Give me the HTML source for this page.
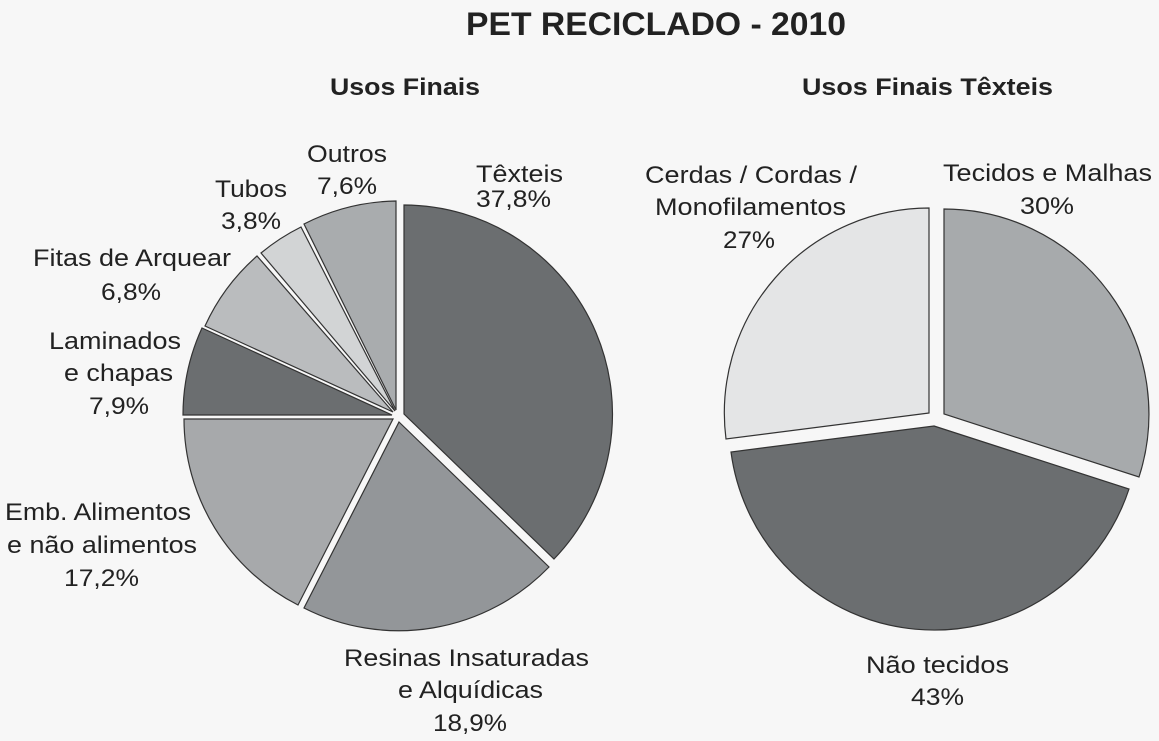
<!DOCTYPE html>
<html><head><meta charset="utf-8"><style>
html,body{margin:0;padding:0;background:#f7f7f7;}
svg{display:block;}
text{font-family:"Liberation Sans",Arial,sans-serif;fill:#222;}
</style></head><body>
<svg width="1159" height="741" viewBox="0 0 1159 741">
<rect width="1159" height="741" fill="#f7f7f7"/>
<text x="466" y="35" font-size="32" font-weight="bold" textLength="380" lengthAdjust="spacingAndGlyphs">PET RECICLADO - 2010</text>
<text x="330" y="95" font-size="24" font-weight="bold" textLength="150" lengthAdjust="spacingAndGlyphs">Usos Finais</text>
<text x="802" y="95" font-size="24" font-weight="bold" textLength="251" lengthAdjust="spacingAndGlyphs">Usos Finais Têxteis</text>
<g stroke="#333" stroke-width="1.2">
<path d="M404,414 L404,205 A209,209 0 0 1 554,559 Z" fill="#6b6e70"/>
<path d="M399,422 L549,567 A209,209 0 0 1 304,608 Z" fill="#939699"/>
<path d="M393,419 L298,605 A209,209 0 0 1 184,419 Z" fill="#a7a9ab"/>
<path d="M392,415 L183,415 A209,209 0 0 1 202,328 Z" fill="#6b6e70"/>
<path d="M393,412 L205,326 A207,207 0 0 1 257,256 Z" fill="#babcbe"/>
<path d="M395,411 L261,253 A207,207 0 0 1 301,227 Z" fill="#d2d4d5"/>
<path d="M396,410 L304,224 A209,209 0 0 1 396,201 Z" fill="#a9acae"/>
<path d="M944,414 L944,209 A205,205 0 0 1 1139,477 Z" fill="#a7aaac"/>
<path d="M934,426 L1129,489 A205,205 0 0 1 731,452 Z" fill="#6b6e70"/>
<path d="M929,413 L726,439 A205,205 0 0 1 929,208 Z" fill="#e4e5e6"/>
</g>
<g font-size="24">
<text x="307" y="162" textLength="80" lengthAdjust="spacingAndGlyphs">Outros</text><text x="317" y="194" textLength="60" lengthAdjust="spacingAndGlyphs">7,6%</text>
<text x="215" y="197" textLength="72" lengthAdjust="spacingAndGlyphs">Tubos</text><text x="221" y="229" textLength="60" lengthAdjust="spacingAndGlyphs">3,8%</text>
<text x="476" y="182" textLength="87" lengthAdjust="spacingAndGlyphs">Têxteis</text><text x="476" y="207" textLength="75" lengthAdjust="spacingAndGlyphs">37,8%</text>
<text x="33" y="266" textLength="198" lengthAdjust="spacingAndGlyphs">Fitas de Arquear</text><text x="101" y="300" textLength="60" lengthAdjust="spacingAndGlyphs">6,8%</text>
<text x="49" y="349" textLength="132" lengthAdjust="spacingAndGlyphs">Laminados</text><text x="64" y="381" textLength="109" lengthAdjust="spacingAndGlyphs">e chapas</text><text x="89" y="414" textLength="60" lengthAdjust="spacingAndGlyphs">7,9%</text>
<text x="5" y="520" textLength="186" lengthAdjust="spacingAndGlyphs">Emb. Alimentos</text><text x="7" y="553" textLength="190" lengthAdjust="spacingAndGlyphs">e não alimentos</text><text x="64" y="586" textLength="75" lengthAdjust="spacingAndGlyphs">17,2%</text>
<text x="344" y="666" textLength="245" lengthAdjust="spacingAndGlyphs">Resinas Insaturadas</text><text x="398" y="698" textLength="145" lengthAdjust="spacingAndGlyphs">e Alquídicas</text><text x="433" y="731" textLength="74" lengthAdjust="spacingAndGlyphs">18,9%</text>
<text x="645" y="183" textLength="212" lengthAdjust="spacingAndGlyphs">Cerdas / Cordas /</text><text x="655" y="215" textLength="191" lengthAdjust="spacingAndGlyphs">Monofilamentos</text><text x="723" y="248" textLength="52" lengthAdjust="spacingAndGlyphs">27%</text>
<text x="943" y="181" textLength="209" lengthAdjust="spacingAndGlyphs">Tecidos e Malhas</text><text x="1020" y="214" textLength="54" lengthAdjust="spacingAndGlyphs">30%</text>
<text x="866" y="673" textLength="143" lengthAdjust="spacingAndGlyphs">Não tecidos</text><text x="911" y="705" textLength="53" lengthAdjust="spacingAndGlyphs">43%</text>
</g>
</svg>
</body></html>
